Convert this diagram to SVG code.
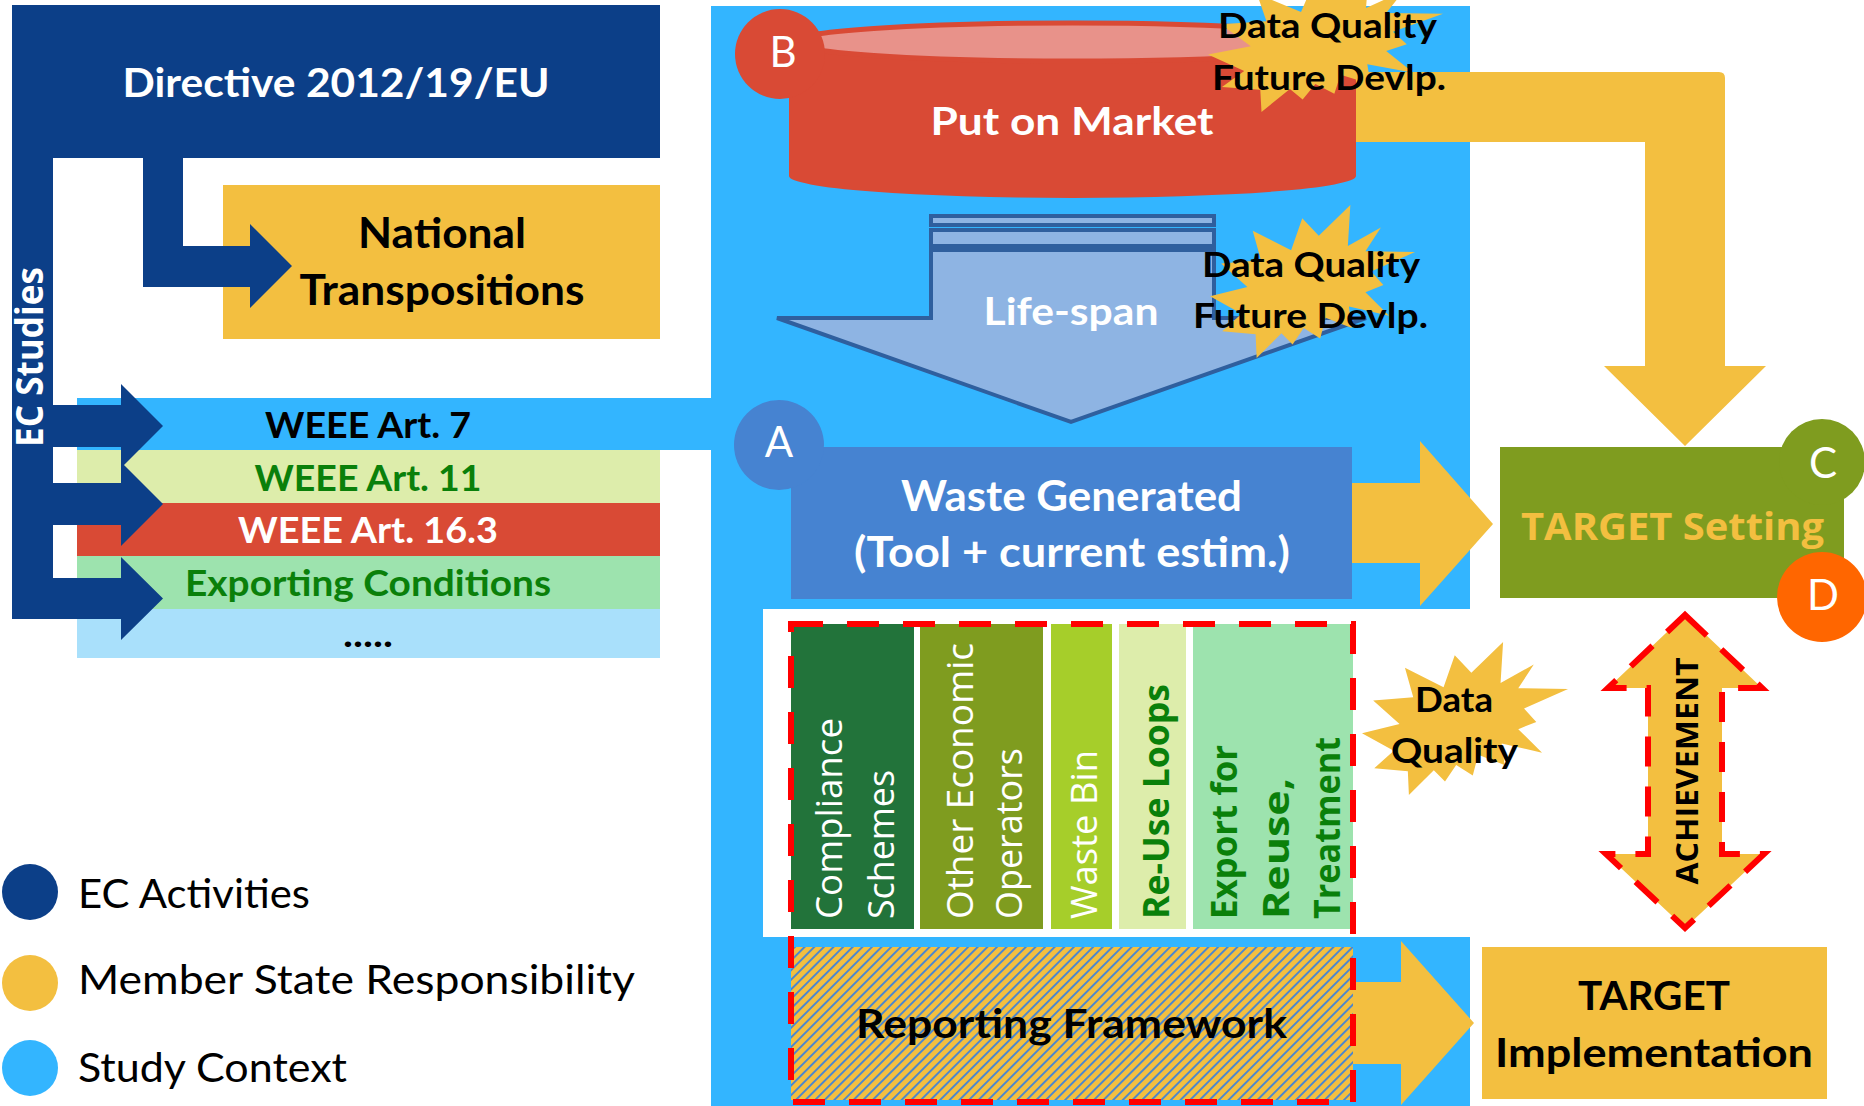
<svg xmlns="http://www.w3.org/2000/svg" width="1864" height="1106" viewBox="0 0 1864 1106">
  <style>
    .cal { font-family: Lato, "Open Sans", "Liberation Sans", sans-serif; }
    .seg { font-family: "Open Sans", "DejaVu Sans", sans-serif; }
    .b { font-weight: 700; }
    .mid { text-anchor: middle; }
    .wht { fill: #FFFFFF; }
    .blk { fill: #000000; }
    .grn { fill: #0A800A; }
    .ec { fill: #0C3F88; }
    .study { fill: #33B5FF; }
    .ms { fill: #F3BF40; }
    .dash { fill: none; stroke: #FF0000; stroke-width: 6; }
  </style>
  <defs>
    <!-- explosion-style starburst in a 216 x 216 box -->
    <polygon id="seal" points="114.62,43.42 147.9,0 145.25,57.77 180.07,31.72 163.8,65.32 216,66.45 169.85,94.02 182.7,112.9 163.8,123.1 188.77,156.32 146.4,143.5 149.42,173.7 121.8,159.35 116.12,188.42 98.72,173.7 87,197.12 75.27,181.25 49.17,216 48.05,182.4 12.85,178.25 33.3,153.7 0,128.77 39.35,115.92 11.72,82.7 53.72,78.17 45.02,36.25 85.5,63.82 97.22,18.87" fill="#F3BF40"/>
    <pattern id="hatch" width="6.8" height="6.8" patternUnits="userSpaceOnUse" patternTransform="rotate(45)">
      <rect width="6.8" height="6.8" fill="#F3BF40"/>
      <rect width="1.9" height="6.8" fill="#4A86CF"/>
    </pattern>
  </defs>

  <rect width="1864" height="1106" fill="#FFFFFF"/>

  <!-- study context background panel -->
  <g id="study-panel">
    <path class="study" d="M711,6 H1470 V609 H763 V937 H1470 V1106 H711 Z"/>
  </g>

  <!-- legislative bands -->
  <g id="weee-art7">
    <rect class="study" x="77" y="398" width="640" height="52"/>
    <text class="cal b mid blk" x="368" y="438" font-size="36" textLength="206" lengthAdjust="spacingAndGlyphs">WEEE Art. 7</text>
  </g>
  <g id="weee-art11">
    <rect x="77" y="450" width="583" height="53" fill="#DDEDAB"/>
    <text class="cal b mid grn" x="368" y="491" font-size="36" textLength="227" lengthAdjust="spacingAndGlyphs">WEEE Art. 11</text>
  </g>
  <g id="weee-art163">
    <rect x="77" y="503" width="583" height="53" fill="#D94A35"/>
    <text class="cal b mid wht" x="368" y="543" font-size="36" textLength="260" lengthAdjust="spacingAndGlyphs">WEEE Art. 16.3</text>
  </g>
  <g id="exporting-conditions">
    <rect x="77" y="556" width="583" height="53" fill="#9DE3AE"/>
    <text class="cal b mid grn" x="368" y="596" font-size="36" textLength="366" lengthAdjust="spacingAndGlyphs">Exporting Conditions</text>
  </g>
  <g id="more-bands">
    <rect x="77" y="609" width="583" height="49" fill="#A9E0FB"/>
    <text class="cal b mid blk" x="368" y="647" font-size="36" textLength="50" lengthAdjust="spacingAndGlyphs">.....</text>
  </g>

  <!-- national transpositions -->
  <g id="national-transpositions">
    <rect class="ms" x="223" y="185" width="437" height="154"/>
    <text class="cal b mid blk" x="442" y="248" font-size="42" textLength="168" lengthAdjust="spacingAndGlyphs">National</text>
    <text class="cal b mid blk" x="442" y="305" font-size="42" textLength="285" lengthAdjust="spacingAndGlyphs">Transpositions</text>
  </g>

  <!-- directive and EC studies -->
  <g id="directive">
    <rect class="ec" x="12" y="5" width="648" height="153"/>
    <text class="cal b mid wht" x="336" y="97" font-size="40" textLength="427" lengthAdjust="spacingAndGlyphs">Directive 2012/19/EU</text>
  </g>
  <g id="ec-studies">
    <path class="ec" d="M12,150 H53 V405 H121 V384 L163,426 L121,468 V447 H53 V483 H121 V462 L163,504 L121,546 V525 H53 V578 H121 V557 L163,598.5 L121,640 V619 H12 Z"/>
    <text class="seg b mid wht" transform="translate(43,357) rotate(-90)" font-size="38" textLength="180" lengthAdjust="spacingAndGlyphs">EC Studies</text>
  </g>

  <!-- connectors -->
  <g id="connectors">
    <path class="ec" d="M143,150 V287 H250 V308 L292,266 L250,224 V246 H183 V150 Z"/>
    <path class="ms" d="M1340,72 H1719 Q1725,72 1725,78 V366 H1766 L1685,446 L1604,366 H1645 V142 H1340 Z"/>
    <path class="ms" d="M1352,483 H1420 V441 L1493,524 L1420,606 V563 H1352 Z"/>
    <path class="ms" d="M1353,982 H1401 V941 L1474,1023 L1401,1105 V1064 H1353 Z"/>
  </g>

  <!-- put on market -->
  <g id="put-on-market">
    <path d="M789,42 V176 A283.5,22 0 0 0 1356,176 V42 Z" fill="#D94A35"/>
    <ellipse cx="1072.5" cy="42" rx="281" ry="19" fill="#E8928A" stroke="#D94A35" stroke-width="5"/>
    <text class="cal b mid wht" x="1072" y="135" font-size="39" textLength="283" lengthAdjust="spacingAndGlyphs">Put on Market</text>
  </g>
  <g id="badge-b">
    <circle cx="780" cy="54" r="45" fill="#D94A35"/>
    <text class="cal mid wht" x="783" y="67" font-size="42">B</text>
  </g>
  <g id="dq-market">
    <use href="#seal" transform="translate(1208,-30) scale(1.088,0.657)"/>
    <text class="cal b mid blk" x="1327.5" y="38" font-size="35" textLength="219" lengthAdjust="spacingAndGlyphs">Data Quality</text>
    <text class="cal b mid blk" x="1329" y="90" font-size="35" textLength="234" lengthAdjust="spacingAndGlyphs">Future Devlp.</text>
  </g>

  <!-- life-span -->
  <g id="life-span" fill="#8EB4E3" stroke="#2F5F9E" stroke-width="4">
    <rect x="931" y="216" width="283" height="9"/>
    <rect x="931" y="230" width="283" height="16"/>
    <polygon points="931,250 1214,250 1214,318 1366,318 1071,422 777,318 931,318"/>
    <text class="cal b mid wht" stroke="none" x="1071" y="325" font-size="38" textLength="175" lengthAdjust="spacingAndGlyphs">Life-span</text>
  </g>
  <g id="dq-lifespan">
    <use href="#seal" transform="translate(1210,205) scale(0.949,0.708)"/>
    <text class="cal b mid blk" x="1311" y="277" font-size="35" textLength="218" lengthAdjust="spacingAndGlyphs">Data Quality</text>
    <text class="cal b mid blk" x="1310.5" y="328" font-size="35" textLength="235" lengthAdjust="spacingAndGlyphs">Future Devlp.</text>
  </g>

  <!-- waste generated -->
  <g id="waste-generated">
    <rect x="791" y="447" width="561" height="152" fill="#4683D1"/>
    <text class="cal b mid wht" x="1071.5" y="511" font-size="42" textLength="341" lengthAdjust="spacingAndGlyphs">Waste Generated</text>
    <text class="cal b mid wht" x="1072" y="567" font-size="42" textLength="436" lengthAdjust="spacingAndGlyphs">(Tool + current estim.)</text>
  </g>
  <g id="badge-a">
    <circle cx="779" cy="445" r="45" fill="#4683D1"/>
    <text class="cal mid wht" x="779" y="457" font-size="42">A</text>
  </g>

  <!-- target setting -->
  <g id="target-setting">
    <rect x="1500" y="447" width="344" height="151" fill="#7F9C1F"/>
    <text class="seg b mid ms" x="1672.5" y="540" font-size="38" textLength="303" lengthAdjust="spacingAndGlyphs">TARGET Setting</text>
  </g>
  <g id="badge-c">
    <circle cx="1822" cy="462" r="43" fill="#7F9C1F"/>
    <text class="cal mid wht" x="1823" y="478" font-size="42">C</text>
  </g>
  <g id="badge-d">
    <circle cx="1822" cy="597" r="45" fill="#FF6600"/>
    <text class="cal mid wht" x="1823" y="610" font-size="42">D</text>
  </g>

  <!-- collection channels -->
  <g id="compliance-schemes">
    <rect x="791" y="624" width="123" height="305" fill="#22733A"/>
    <text class="seg wht" transform="translate(842,919) rotate(-90)" font-size="37" textLength="201" lengthAdjust="spacingAndGlyphs">Compliance</text>
    <text class="seg wht" transform="translate(894,919) rotate(-90)" font-size="37" textLength="149" lengthAdjust="spacingAndGlyphs">Schemes</text>
  </g>
  <g id="other-operators">
    <rect x="920" y="624" width="123" height="305" fill="#7F9C1F"/>
    <text class="seg wht" transform="translate(973,919) rotate(-90)" font-size="37" textLength="276" lengthAdjust="spacingAndGlyphs">Other Economic</text>
    <text class="seg wht" transform="translate(1022,919) rotate(-90)" font-size="37" textLength="171" lengthAdjust="spacingAndGlyphs">Operators</text>
  </g>
  <g id="waste-bin">
    <rect x="1051" y="624" width="61" height="305" fill="#A6CE2A"/>
    <text class="seg wht" transform="translate(1097,919) rotate(-90)" font-size="37" textLength="169" lengthAdjust="spacingAndGlyphs">Waste Bin</text>
  </g>
  <g id="reuse-loops">
    <rect x="1119" y="624" width="67" height="305" fill="#DDEDAB"/>
    <text class="seg b grn" transform="translate(1169,919) rotate(-90)" font-size="35" textLength="235" lengthAdjust="spacingAndGlyphs">Re-Use Loops</text>
  </g>
  <g id="export-reuse">
    <rect x="1193" y="624" width="160" height="305" fill="#9DE3AE"/>
    <text class="seg b grn" transform="translate(1237,919) rotate(-90)" font-size="35" textLength="174" lengthAdjust="spacingAndGlyphs">Export for</text>
    <text class="seg b grn" transform="translate(1289,919) rotate(-90)" font-size="35" textLength="141" lengthAdjust="spacingAndGlyphs">Reuse,</text>
    <text class="seg b grn" transform="translate(1340,919) rotate(-90)" font-size="35" textLength="182" lengthAdjust="spacingAndGlyphs">Treatment</text>
  </g>

  <!-- reporting framework -->
  <g id="reporting-framework">
    <rect x="791" y="947" width="562" height="153" fill="url(#hatch)"/>
    <text class="cal b mid blk" x="1071.5" y="1038" font-size="40" textLength="431" lengthAdjust="spacingAndGlyphs">Reporting Framework</text>
  </g>
  <g id="member-state-scope">
    <rect class="dash" x="791" y="624" width="562" height="478" stroke-dasharray="32 24"/>
  </g>

  <g id="dq-channels">
    <use href="#seal" transform="translate(1362,642) scale(0.954,0.708)"/>
    <text class="cal b mid blk" x="1454" y="712" font-size="35" textLength="78" lengthAdjust="spacingAndGlyphs">Data</text>
    <text class="cal b mid blk" x="1454.5" y="763" font-size="35" textLength="127" lengthAdjust="spacingAndGlyphs">Quality</text>
  </g>

  <!-- achievement -->
  <g id="achievement">
    <polygon class="ms" points="1685,615 1762,688 1722,688 1722,854 1764,854 1685,928 1606,854 1648,854 1648,688 1608,688"/>
    <polygon class="dash" points="1685,615 1762,688 1722,688 1722,854 1764,854 1685,928 1606,854 1648,854 1648,688 1608,688" stroke-dasharray="30 20"/>
    <text class="seg b mid blk" transform="translate(1698,771) rotate(-90)" font-size="30" textLength="227" lengthAdjust="spacingAndGlyphs">ACHIEVEMENT</text>
  </g>

  <!-- target implementation -->
  <g id="target-implementation">
    <rect class="ms" x="1482" y="947" width="345" height="152"/>
    <text class="cal b mid blk" x="1654" y="1010" font-size="40" textLength="152" lengthAdjust="spacingAndGlyphs">TARGET</text>
    <text class="cal b mid blk" x="1654" y="1067" font-size="40" textLength="318" lengthAdjust="spacingAndGlyphs">Implementation</text>
  </g>

  <!-- legend -->
  <g id="legend">
    <circle class="ec" cx="30" cy="892" r="28"/>
    <text class="cal blk" x="78" y="908" font-size="41" textLength="232" lengthAdjust="spacingAndGlyphs">EC Activities</text>
    <circle class="ms" cx="30" cy="983" r="28"/>
    <text class="cal blk" x="78" y="994" font-size="41" textLength="557" lengthAdjust="spacingAndGlyphs">Member State Responsibility</text>
    <circle class="study" cx="30" cy="1068" r="28"/>
    <text class="cal blk" x="78" y="1082" font-size="41" textLength="269" lengthAdjust="spacingAndGlyphs">Study Context</text>
  </g>
</svg>
